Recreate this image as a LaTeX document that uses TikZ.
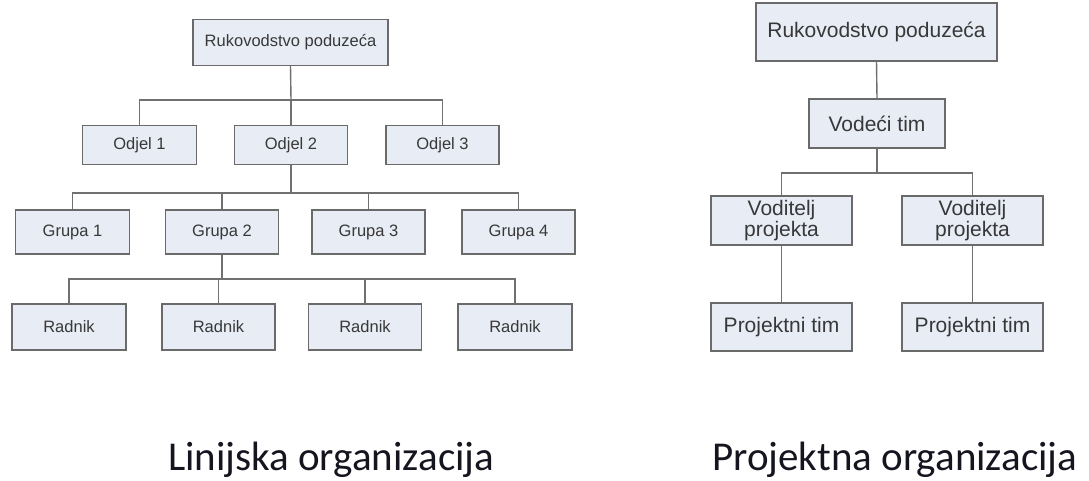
\documentclass[tikz,border=0pt]{standalone}
\usepackage{fontspec}
\setmainfont{Liberation Sans}
\newfontfamily\capfont{Carlito}
\definecolor{boxfill}{HTML}{E8ECF5}
\definecolor{boxline}{HTML}{6A6A6A}
\definecolor{conn}{HTML}{707070}
\definecolor{boxtext}{HTML}{383838}
\definecolor{captext}{HTML}{15151F}
\begin{document}
\begin{tikzpicture}[x=1pt,y=-1pt,
  orgbox/.style={draw=boxline, fill=boxfill, line width=1.4pt, inner sep=0pt, text=boxtext, align=center},
  lbox/.style={orgbox, font=\fontsize{16.5}{19}\selectfont},
  rbox/.style={orgbox, font=\fontsize{21}{24}\selectfont},
  link/.style={draw=conn, line width=1.4pt},
  caption/.style={anchor=base west, inner sep=0pt, text=captext, font=\capfont\fontsize{41}{48}\selectfont}]
\useasboundingbox (0,0) rectangle (1089,481);

% ---- left chart ----
\node[lbox, minimum width=195pt, minimum height=46pt] (ruk) at (290.5,42.5) {Rukovodstvo poduzeća};
\node[lbox, minimum width=114pt, minimum height=39pt] (o1) at (139.5,145) {Odjel 1};
\node[lbox, minimum width=113pt, minimum height=39pt] (o2) at (291,145) {Odjel 2};
\node[lbox, minimum width=113pt, minimum height=39pt] (o3) at (442.5,145) {Odjel 3};

\node[lbox, minimum width=114pt, minimum height=44pt] (g1) at (72.5,232) {Grupa 1};
\node[lbox, minimum width=113pt, minimum height=44pt] (g2) at (222,232) {Grupa 2};
\node[lbox, minimum width=113pt, minimum height=44pt] (g3) at (368.5,232) {Grupa 3};
\node[lbox, minimum width=113pt, minimum height=44pt] (g4) at (518.5,232) {Grupa 4};

\node[lbox, minimum width=114pt, minimum height=46pt] (r1) at (69,327) {Radnik};
\node[lbox, minimum width=113pt, minimum height=46pt] (r2) at (218.5,327) {Radnik};
\node[lbox, minimum width=113pt, minimum height=46pt] (r3) at (365,327) {Radnik};
\node[lbox, minimum width=114pt, minimum height=46pt] (r4) at (515,327) {Radnik};

\coordinate (h1) at (291,100);
\coordinate (h2) at (291,193);
\coordinate (h3) at (222,279);

\draw[link] (ruk.south) -- (h1);
\draw[link] (o1.north) |- (h1) -| (o3.north);
\draw[link] (h1) -- (o2.north);

\draw[link] (o2.south) -- (h2);
\draw[link] (g1.north) |- (h2) -| (g4.north);
\draw[link] (g2.north) |- (h2);
\draw[link] (g3.north) |- (h2);

\draw[link] (g2.south) -- (h3);
\draw[link] (r1.north) |- (h3) -| (r4.north);
\draw[link] (r2.north) |- (h3);
\draw[link] (r3.north) |- (h3);

% ---- right chart ----
\node[rbox, minimum width=241pt, minimum height=58pt] (pruk) at (876.5,32) {Rukovodstvo poduzeća};
\node[rbox, minimum width=136pt, minimum height=49pt] (vt) at (877,123.5) {Vodeći tim};
\node[rbox, minimum width=141pt, minimum height=49pt] (vp1) at (781.5,220.5) {Voditelj\\[-3pt]projekta};
\node[rbox, minimum width=141pt, minimum height=49pt] (vp2) at (972.5,220.5) {Voditelj\\[-3pt]projekta};
\node[rbox, minimum width=141pt, minimum height=48pt] (pt1) at (781.5,327) {Projektni tim};
\node[rbox, minimum width=141pt, minimum height=48pt] (pt2) at (972.5,327) {Projektni tim};

\coordinate (h4) at (877,173);
\draw[link] (pruk.south) -- (vt.north);
\draw[link] (vt.south) -- (h4);
\draw[link] (vp1.north) |- (h4) -| (vp2.north);
\draw[link] (vp1.south) -- (pt1.north);
\draw[link] (vp2.south) -- (pt2.north);

% ---- captions ----
\node[caption] (cap1) at (168,470) {Linijska organizacija};
\node[caption] (cap2) at (712,470) {Projektna organizacija};
\end{tikzpicture}
\end{document}
